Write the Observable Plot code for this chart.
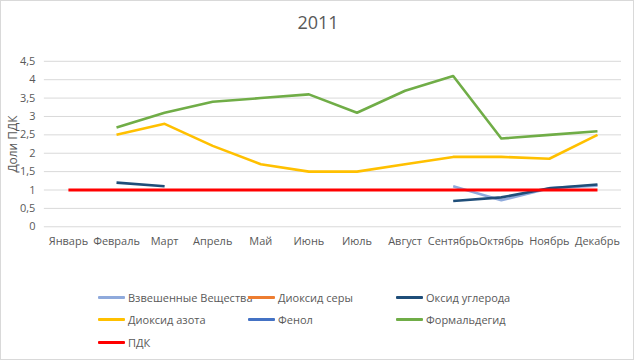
<!DOCTYPE html>
<html><head><meta charset="utf-8">
<script src="https://cdn.jsdelivr.net/npm/d3@7"></script>
<script src="https://cdn.jsdelivr.net/npm/@observablehq/plot@0.6"></script>
<style>
body{margin:0;background:#fff;font-family:"Open Sans",sans-serif;}
#wrap{position:relative;width:634px;height:360px;box-sizing:border-box;border:1px solid #d9d9d9;overflow:hidden;}
#title{position:absolute;top:9px;left:0;width:634px;text-align:center;font-size:18px;color:#595959;}
#chart{position:absolute;top:0;left:0;}
#legend{position:absolute;left:0;top:0;width:634px;height:360px;font-size:11px;color:#595959;}
.li{position:absolute;display:flex;align-items:center;white-space:nowrap;}
.sw{width:27px;height:3px;margin-right:3px;border-radius:1px;}
</style></head>
<body><div id="wrap"><div id="chart"></div><div id="title">2011</div><div id="legend"></div></div>
<script>
const months = ["Январь","Февраль","Март","Апрель","Май","Июнь","Июль","Август","Сентябрь","Октябрь","Ноябрь","Декабрь"];
const seriesNames = ["Взвешенные Вещества","Диоксид серы","Оксид углерода","Диоксид азота","Фенол","Формальдегид","ПДК"];
const seriesColors = ["#8FAADC","#ED7D31","#1F4E79","#FFC000","#4472C4","#70AD47","#FF0000"];
const vzveshennye = [null,null,null,null,null,null,null,null,1.1,0.72,1.05,1.12];
const dioksidSery = [null,null,null,null,null,null,null,null,null,null,null,null];
const oksidUgleroda = [null,1.2,1.1,null,null,null,null,null,0.7,0.8,1.05,1.15];
const dioksidAzota = [null,2.5,2.8,2.2,1.7,1.5,1.5,1.7,1.9,1.9,1.85,2.5];
const fenol = [null,null,null,null,null,null,null,null,null,null,null,null];
const formaldegid = [null,2.7,3.1,3.4,3.5,3.6,3.1,3.7,4.1,2.4,2.5,2.6];
const pdk = [1,1,1,1,1,1,1,1,1,1,1,1];
const yTicks = [0,0.5,1,1.5,2,2.5,3,3.5,4,4.5];

const allSeries = [vzveshennye,dioksidSery,oksidUgleroda,dioksidAzota,fenol,formaldegid,pdk];
const rows = [];
allSeries.forEach((vals,si)=>vals.forEach((v,mi)=>rows.push({series:seriesNames[si],month:months[mi],value:v==null?NaN:v})));

const fmt = d => String(d).replace(".", ",");
const plot = Plot.plot({
  width:634, height:260,
  marginTop:60, marginBottom:34, marginLeft:43, marginRight:12,
  style:{fontFamily:"Open Sans, sans-serif", fontSize:"11px", color:"#595959", background:"transparent"},
  x:{type:"point", domain:months, padding:0.5, round:false, label:null, tickSize:0, tickPadding:10},
  y:{domain:[0,4.5], ticks:yTicks, tickFormat:fmt, label:null, tickSize:0, tickPadding:9},
  color:{domain:seriesNames, range:seriesColors},
  marks:[
    Plot.ruleY(yTicks,{stroke:"#d9d9d9", strokeWidth:1}),
    ...seriesNames.map(name=>Plot.line(rows.filter(r=>r.series===name),{x:"month",y:"value",stroke:"series",strokeWidth:name==="ПДК"?3.2:2.6,strokeLinecap:"butt"})),
    Plot.text(["Доли ПДК"],{frameAnchor:"left",textAnchor:"middle",dx:-31,rotate:-90,fontSize:12,fill:"#595959"})
  ]
});
document.getElementById("chart").appendChild(plot);

const legendPos = [[97,297],[247,297],[395,297],[97,319],[247,319],[395,319],[97,342]];
const lg = document.getElementById("legend");
seriesNames.forEach((n,i)=>{
  const d=document.createElement("div");d.className="li";
  d.style.left=legendPos[i][0]+"px";d.style.top=(legendPos[i][1]-8)+"px";
  d.innerHTML=`<span class="sw" style="background:${seriesColors[i]}"></span><span>${n}</span>`;
  lg.appendChild(d);
});
</script></body></html>
